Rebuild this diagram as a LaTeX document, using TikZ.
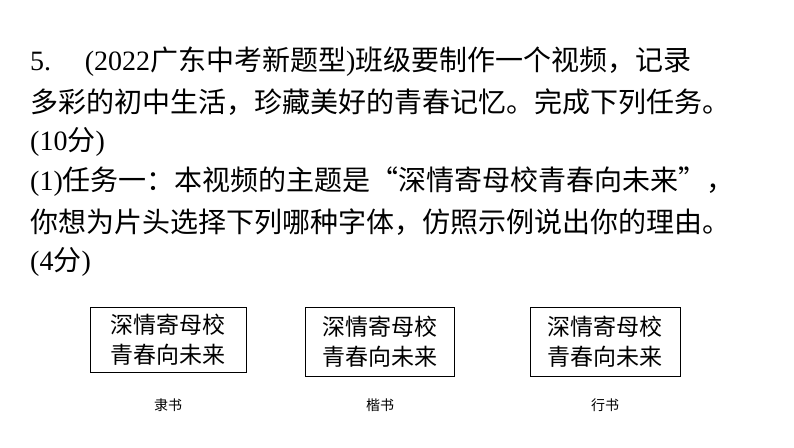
\documentclass[tikz,border=0pt]{standalone}
\usepackage{fontspec}
\setmainfont{Liberation Serif}
\newfontfamily\cjk{Noto Sans CJK SC}
\newcommand{\lat}[1]{{\rmfamily #1}}
\tikzset{line/.style={anchor=west,inner sep=0pt,font=\cjk\fontsize{28}{28}\selectfont},
box/.style={draw,line width=1pt,inner sep=0pt,align=center,font=\cjk\fontsize{23}{30}\selectfont},
captext/.style={font=\cjk\fontsize{14}{14}\selectfont,inner sep=0pt}}
\begin{document}
\begin{tikzpicture}[x=1pt,y=-1pt]
\useasboundingbox (0,0) rectangle (794,447);
\node[line] (l1) at (30,62) {\lat{5.}\hspace{1.2em}\lat{(2022}广东中考新题型\lat{)}班级要制作一个视频，记录};
\node[line] (l2) at (30,102) {多彩的初中生活，珍藏美好的青春记忆。完成下列任务。};
\node[line] (l3) at (30,142) {\lat{(10}分\lat{)}};
\node[line] (l4) at (30,182) {\lat{(1)}任务一：本视频的主题是“深情寄母校青春向未来”，};
\node[line] (l5) at (30,222) {你想为片头选择下列哪种字体，仿照示例说出你的理由。};
\node[line] (l6) at (30,262) {\lat{(4}分\lat{)}};
\node[box,minimum width=156,minimum height=65] (b1) at (168,340) {深情寄母校\\青春向未来};
\node[box,minimum width=149,minimum height=69] (b2) at (380,342) {深情寄母校\\青春向未来};
\node[box,minimum width=150,minimum height=69] (b3) at (605,342) {深情寄母校\\青春向未来};
\node[captext] (c1) at (168,405) {隶书};
\node[captext] (c2) at (380,405) {楷书};
\node[captext] (c3) at (605,405) {行书};
\end{tikzpicture}
\end{document}
